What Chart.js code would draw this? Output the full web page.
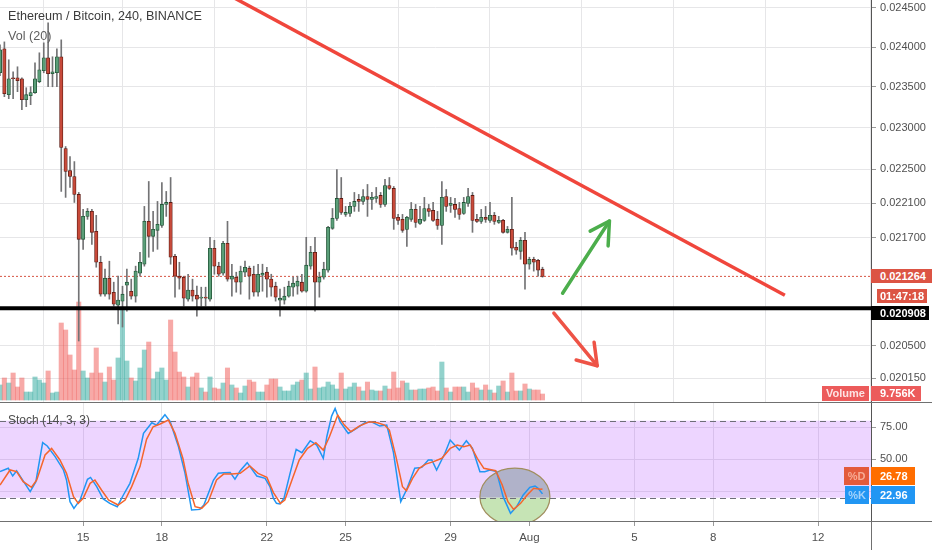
<!DOCTYPE html>
<html><head><meta charset="utf-8">
<script src="https://cdn.jsdelivr.net/npm/chart.js@4.4.1/dist/chart.umd.min.js"></script>
<style>
html,body{margin:0;padding:0;background:#fff;width:932px;height:550px;overflow:hidden;font-family:"Liberation Sans",Arial,sans-serif;}
#wrap{position:relative;width:932px;height:550px;}
canvas{position:absolute;left:0;}
#c1{top:0;}
#c2{top:402px;}
.txt{position:absolute;white-space:nowrap;}
.bd{position:absolute;color:#fff;font:bold 11px "Liberation Sans",Arial,sans-serif;white-space:nowrap;box-sizing:border-box;}
</style></head>
<body><div id="wrap">
<canvas id="c1" width="932" height="402"></canvas>
<canvas id="c2" width="932" height="148"></canvas>
<div class="txt" style="left:8px;top:9px;font-size:12.6px;color:#3b3b3b;">Ethereum / Bitcoin, 240, BINANCE</div>
<div class="txt" style="left:8px;top:29px;font-size:12.6px;color:#5e5e5e;">Vol (20)</div>
<div class="txt" style="left:8px;top:413px;font-size:12px;color:#4e4e4e;">Stoch (14, 3, 3)</div>
</div>
<script>
// ---- data (4h candles, index 0 = first visible candle) ----
const opens = [0.023676,0.023977,0.023404,0.023614,0.023614,0.023602,0.023342,0.023392,0.023429,0.023565,
0.023701,0.023864,0.023664,0.023676,0.023877,0.022748,0.022486,0.022415,0.022204,0.021684,
0.021948,0.022006,0.021775,0.021423,0.021065,0.021244,0.021087,0.020944,0.020988,0.021165,
0.021098,0.021043,0.021300,0.021401,0.021891,0.021718,0.021787,0.021844,0.022087,0.022110,
0.021491,0.021266,0.021255,0.021010,0.021110,0.021054,0.021021,0.021032,0.021010,0.021582,
0.021379,0.021300,0.021638,0.021233,0.021255,0.021199,0.021311,0.021356,0.021288,0.021087,
0.021277,0.021311,0.021233,0.021154,0.020999,0.020999,0.021043,0.021143,0.021154,0.021199,
0.021098,0.021379,0.021536,0.021199,0.021255,0.021333,0.021810,0.021925,0.022157,0.021971,
0.021983,0.022064,0.022145,0.022122,0.022180,0.022145,0.022157,0.022192,0.022087,0.022309,
0.022274,0.021937,0.021914,0.021798,0.021914,0.022029,0.021867,0.021902,0.022040,0.022017,
0.021914,0.021844,0.022180,0.022075,0.022087,0.022040,0.021983,0.022099,0.022192,0.021914,
0.021890,0.021937,0.021902,0.021960,0.021879,0.021902,0.021764,0.021798,0.021593,0.021547,
0.021673,0.021401,0.021457,0.021446,0.021345];
const highs = [0.024028,0.024065,0.023839,0.023689,0.023751,0.023614,0.023490,0.023502,0.023801,0.023927,
0.024053,0.024307,0.023877,0.023977,0.024091,0.022772,0.022652,0.022592,0.022227,0.022029,
0.022040,0.022029,0.021960,0.021491,0.021345,0.021435,0.021199,0.021266,0.021154,0.021345,
0.021233,0.021379,0.021536,0.022064,0.022356,0.022006,0.022122,0.022344,0.022239,0.022403,
0.021513,0.021423,0.021266,0.021288,0.021233,0.021154,0.021143,0.021143,0.021707,0.021673,
0.021423,0.021661,0.021891,0.021401,0.021311,0.021379,0.021435,0.021379,0.021379,0.021401,
0.021401,0.021367,0.021288,0.021199,0.021121,0.021143,0.021210,0.021255,0.021266,0.021288,
0.021707,0.021604,0.021707,0.021311,0.021423,0.021832,0.022040,0.022497,0.022403,0.022064,
0.022110,0.022227,0.022204,0.022262,0.022321,0.022227,0.022286,0.022227,0.022380,0.022403,
0.022297,0.021971,0.021971,0.021948,0.022110,0.022087,0.022064,0.022169,0.022087,0.022110,
0.022006,0.022356,0.022262,0.022169,0.022157,0.022110,0.022169,0.022274,0.022227,0.021971,
0.022029,0.022064,0.022110,0.021994,0.021948,0.021914,0.021832,0.022169,0.021650,0.021707,
0.021764,0.021480,0.021480,0.021457,0.021367];
const lows = [0.023639,0.023379,0.023355,0.023355,0.023441,0.023220,0.023256,0.023281,0.023420,0.023552,
0.023676,0.023502,0.023502,0.023502,0.022239,0.022169,0.022286,0.022110,0.020551,0.021570,
0.021914,0.021627,0.021367,0.021043,0.021043,0.021010,0.020933,0.020736,0.020703,0.020878,
0.021010,0.020977,0.021266,0.021379,0.021480,0.021547,0.021570,0.021821,0.021948,0.021401,
0.021032,0.021121,0.020933,0.020988,0.020988,0.020823,0.020933,0.020933,0.020988,0.021288,
0.021266,0.021277,0.021210,0.021043,0.021087,0.021065,0.021266,0.021010,0.021043,0.021043,
0.021098,0.021032,0.021043,0.020988,0.020823,0.020955,0.021032,0.021043,0.021065,0.021087,
0.021087,0.021345,0.020878,0.021032,0.021233,0.021311,0.021798,0.021902,0.021971,0.021948,
0.021948,0.022006,0.022006,0.022087,0.021948,0.022029,0.022110,0.022052,0.022064,0.022262,
0.021798,0.021856,0.021764,0.021604,0.021890,0.021821,0.021856,0.021890,0.021948,0.021890,
0.021798,0.021627,0.022006,0.021994,0.021937,0.021914,0.021971,0.022064,0.021764,0.021879,
0.021867,0.021879,0.021879,0.021856,0.021867,0.021755,0.021755,0.021502,0.021513,0.021457,
0.021121,0.021345,0.021323,0.021266,0.021255];
const closes = [0.023965,0.023416,0.023602,0.023602,0.023577,0.023342,0.023404,0.023429,0.023602,0.023714,
0.023864,0.023664,0.023689,0.023877,0.022760,0.022474,0.022415,0.022204,0.021684,0.021948,
0.022006,0.021764,0.021423,0.021065,0.021244,0.021065,0.020955,0.020999,0.021065,0.021199,
0.021043,0.021323,0.021423,0.021891,0.021718,0.021798,0.021856,0.022087,0.022110,0.021480,
0.021266,0.021244,0.021021,0.021110,0.021043,0.021010,0.021032,0.021021,0.021582,0.021379,
0.021288,0.021638,0.021233,0.021266,0.021199,0.021323,0.021367,0.021266,0.021087,0.021288,
0.021300,0.021233,0.021143,0.021032,0.021021,0.021043,0.021154,0.021188,0.021210,0.021098,
0.021390,0.021536,0.021199,0.021255,0.021345,0.021821,0.021925,0.022157,0.021994,0.021994,
0.022064,0.022122,0.022122,0.022180,0.022145,0.022169,0.022180,0.022087,0.022309,0.022274,
0.021925,0.021902,0.021787,0.021937,0.022029,0.021879,0.021914,0.022040,0.022006,0.021902,
0.021844,0.022169,0.022064,0.022099,0.022029,0.021971,0.022110,0.022180,0.021902,0.021890,
0.021937,0.021914,0.021960,0.021890,0.021902,0.021764,0.021798,0.021582,0.021559,0.021673,
0.021401,0.021457,0.021423,0.021334,0.021264];
// volume in thousands
const volumes = [24.5,35.9,27.7,44.0,21.2,35.9,13.0,13.0,37.5,32.6,
27.7,47.3,11.4,13.0,125.5,114.1,73.4,48.9,159.7,47.3,
35.9,44.0,84.8,44.0,29.3,53.8,32.6,68.5,150.0,63.6,
35.9,31.0,52.2,81.5,94.5,34.2,45.6,52.2,32.6,130.4,
78.2,45.6,37.5,21.2,37.5,44.0,19.6,13.0,37.5,19.6,
17.9,27.7,52.2,24.5,19.6,11.4,22.8,32.6,29.3,13.0,
13.0,24.5,34.2,34.2,21.2,14.7,14.7,24.5,29.3,32.6,
44.0,17.9,53.8,19.6,21.2,29.3,24.5,17.9,44.0,17.9,
21.2,27.7,21.2,14.7,29.3,16.3,14.7,14.7,22.8,17.9,
45.6,19.6,31.0,27.7,16.3,16.3,17.9,17.9,19.6,21.2,
14.7,61.9,19.6,13.0,21.2,21.2,21.2,13.0,27.7,19.6,
16.3,24.5,16.3,11.4,22.8,31.0,13.0,44.0,14.7,14.7,
26.1,17.9,16.3,16.3,9.756];
// Stochastic (14,3,3): vertices (candle index, value)
const kIdx = [0,1.9,2.9,3.8,6.9,8.2,9.75,10.8,12.6,14.5,15.2,16,16.9,18.3,20,20.7,22.1,23.6,25.1,26.8,
28.2,29.7,31.6,32.8,34.7,35.8,37.7,38.9,40.8,42.3,43.8,45.7,46.6,48.8,49.9,51.1,52.6,53.7,54.9,56.5,
58.7,60.6,61.7,62.5,63.2,64,64.9,66.3,67.7,69,70.9,72.4,73.9,74.7,75.8,76.6,77.7,79.6,81.5,83.4,
84.9,86.8,88.4,89.9,91.6,92.9,94.8,96.4,97.9,98.7,99.8,101.7,102.9,105,106.6,108,109.7,110.8,112,113.5,
115,116.7,118.1,119.6,121.1,122.3,123,124];
const kVal = [40.3,42.9,36.9,41,24.7,32.5,62.9,60.3,52,41.6,33.8,16.9,11.7,18.2,34.3,35.8,28.6,19,15.6,13,
22.1,31.2,50.7,70.1,78.4,76.6,84.7,79.2,59.7,39,10.4,10.9,14.3,33.8,39,39.5,39.7,34.5,41,47.3,
36.9,35.1,28.6,19.5,15.6,15.1,19.5,39,57.7,55.1,64.4,61,50.7,67.5,83.6,89.6,79.2,70.1,74,78.4,
79.2,75.8,76.6,55.8,16.9,26,42.9,43.6,49.4,49.4,41.6,54.6,64.9,57.1,64.4,58.4,40.3,40.3,41.6,40.3,
20.8,7.8,13,22.1,28.1,29.1,27.3,22.96];
const dIdx = [0,2.3,3.8,5.3,7.2,8.4,10.3,11.8,13.7,15.2,16.8,17.9,19,20.6,21.7,23.2,24.8,27,28.6,30.1,
32,33.5,35,36.6,38.5,40,41.8,43,44.6,46.1,47.6,49.5,51.1,53,54.9,57.1,59,61,62.5,64.1,
65.1,67,68.4,70.3,72.2,73.9,75.3,77.2,78.7,80.2,82.1,84.4,86.3,87.9,89,90.5,92,92.9,94.3,95.8,
97.3,99.1,101,102.9,104.5,106,107.5,109.1,110.6,113.3,114.8,116.1,117.4,119,120.5,122,123.6,124];
const dVal = [29.9,41.6,40.3,32.5,28.1,33.8,53.3,58.4,49.4,39,20.8,15.6,19.5,31.2,33.8,26,18.2,14.3,18.2,28.6,
44.2,65.5,75.3,77.4,80.5,70.1,50.7,31.2,13,11.7,16.9,33.8,38.4,38.4,39,44.7,39,35.8,24,15.6,
18.2,36.4,49.4,58.4,62.9,57.1,67.5,84.4,76.6,71.4,75.8,79.2,78.4,76.6,72.7,52,28.6,25.5,35.1,42.9,
46.2,48.1,50.7,58.4,61,59.7,61,50.7,42.9,41,29.9,16.9,10.9,15.6,22.1,27.3,26.5,26.78];
// axes
const dayTickIdx = [19,37,61,79,103,121,145,163,187];
const dayTickLabels = ['15','18','22','25','29','Aug','5','8','12'];
const priceTicks = [0.02015,0.0205,0.0217,0.0221,0.0225,0.023,0.0235,0.024,0.0245];
const stochTicks = [25,50,75];
const stochBands = [20,80];
// drawings
const supportLevel = 0.020908;
const trendLine = [{x:50.2,y:0.024733},{x:179.4,y:0.021054}];
const upArrowShaft = [{x:128.6,y:0.021076},{x:139.3,y:0.021894}];
const upArrowHead = [{x:134.9,y:0.021778},{x:139.3,y:0.021894},{x:139.0,y:0.021608}];
const downArrowShaft = [{x:126.6,y:0.020856},{x:136.5,y:0.020285}];
const downArrowHead = [{x:131.7,y:0.020346},{x:136.5,y:0.020285},{x:135.8,y:0.020537}];
const circleMark = {x:117.7, y:20.8};
const countdown = '01:47:18';

// ---- view ranges ----
const xMin = 0, xMax = 199.09;
const pMin = 0.019912, pMax = 0.024603;
const vMin = -3.26, vMax = 652;
const sMin = 1.84, sMax = 94.57;

const UP='#5a9e78', DOWN='#c84a3a', UPB='#225437', DOWNB='#5b1a13', WICK='#737375';
const GRID='#e6e6e8';
const FONT='"Liberation Sans", Arial, sans-serif';
const isUp = closes.map((c,i)=>c>=opens[i]);
const last = closes.length-1;

function axisFitY(s){ s.width=61; s.paddingTop=0; s.paddingBottom=0; }

const c1 = new Chart(document.getElementById('c1'), {
  type:'bar',
  data:{datasets:[
    {type:'bar', label:'Volume', yAxisID:'yv', grouped:false, order:10, barThickness:4.4,
      data: volumes.map((v,i)=>({x:i,y:v})),
      backgroundColor: isUp.map(u=>u?'rgba(38,166,154,0.5)':'rgba(239,83,80,0.5)')},
    {type:'line', label:'Last price', yAxisID:'y', order:9, pointRadius:0, borderWidth:1,
      borderColor:'#d75442', borderDash:[2,2],
      data:[{x:xMin,y:closes[last]},{x:xMax,y:closes[last]}]},
    {type:'bar', label:'Wick', yAxisID:'y', grouped:false, order:8, barThickness:1,
      data: lows.map((l,i)=>({x:i,y:[l,highs[i]]})), backgroundColor:WICK},
    {type:'bar', label:'Body', yAxisID:'y', grouped:false, order:7, barThickness:3.4,
      borderWidth:0.8, borderSkipped:false,
      data: opens.map((o,i)=>({x:i,y:[o,closes[i]]})),
      backgroundColor: isUp.map(u=>u?UP:DOWN), borderColor: isUp.map(u=>u?UPB:DOWNB)},
    {type:'line', label:'Support', yAxisID:'y', order:5, pointRadius:0, borderWidth:4, borderColor:'#000',
      data:[{x:xMin,y:supportLevel},{x:xMax,y:supportLevel}]},
    {type:'line', label:'Trend', yAxisID:'y', order:4, pointRadius:0, borderWidth:3.5, borderColor:'#f0463c',
      data:trendLine},
    {type:'line', label:'Up', yAxisID:'y', order:3, pointRadius:0, borderWidth:3.5, borderColor:'#4cae4c',
      borderCapStyle:'round', data:upArrowShaft},
    {type:'line', label:'UpHead', yAxisID:'y', order:3, pointRadius:0, borderWidth:3.5, borderColor:'#4cae4c',
      borderCapStyle:'round', borderJoinStyle:'round', data:upArrowHead},
    {type:'line', label:'Down', yAxisID:'y', order:3, pointRadius:0, borderWidth:3.5, borderColor:'#ee5346',
      borderCapStyle:'round', data:downArrowShaft},
    {type:'line', label:'DownHead', yAxisID:'y', order:3, pointRadius:0, borderWidth:3.5, borderColor:'#ee5346',
      borderCapStyle:'round', borderJoinStyle:'round', data:downArrowHead}
  ]},
  options:{
    responsive:false, animation:false, events:[],
    layout:{padding:0},
    plugins:{legend:{display:false}, tooltip:{enabled:false}},
    scales:{
      x:{type:'linear', min:xMin, max:xMax, offset:false,
        afterBuildTicks:s=>{s.ticks=dayTickIdx.map(v=>({value:v}));},
        ticks:{display:false}, grid:{color:GRID, drawTicks:false}, border:{display:false},
        afterFit:s=>{s.height=0; s.paddingLeft=0; s.paddingRight=0;}},
      y:{type:'logarithmic', position:'right', min:pMin, max:pMax,
        afterBuildTicks:s=>{s.ticks=priceTicks.map(v=>({value:v}));},
        ticks:{callback:v=>Number(v).toFixed(6), color:'#505050', font:{family:FONT,size:11}, padding:4, autoSkip:false},
        grid:{color:GRID, tickLength:5, tickColor:'#9a9a9a'}, border:{color:'#555'},
        afterFit:axisFitY},
      yv:{type:'linear', display:false, min:vMin, max:vMax}
    }
  }
});

const stochDecor = {
  id:'stochDecor',
  beforeDatasetsDraw(chart){
    const {ctx, chartArea:a, scales:{x,y}} = chart;
    ctx.save();
    ctx.beginPath(); ctx.rect(a.left,a.top,a.right-a.left,a.bottom-a.top); ctx.clip();
    const yHi = y.getPixelForValue(stochBands[1]), yLo = y.getPixelForValue(stochBands[0]);
    ctx.fillStyle='rgba(153,21,255,0.18)';
    ctx.fillRect(a.left,yHi,a.right-a.left,yLo-yHi);
    const cx = x.getPixelForValue(circleMark.x), cy = y.getPixelForValue(circleMark.y);
    ctx.save();
    ctx.beginPath(); ctx.ellipse(cx,cy,35,28.5,0,0,Math.PI*2); ctx.clip();
    ctx.fillStyle='#b0b2c9'; ctx.fillRect(cx-40,cy-40,80,yLo-(cy-40));
    ctx.fillStyle='#c6e4b5'; ctx.fillRect(cx-40,yLo,80,80);
    ctx.restore();
    ctx.beginPath(); ctx.ellipse(cx,cy,35,28.5,0,0,Math.PI*2);
    ctx.strokeStyle='#a08e5e'; ctx.lineWidth=1.2; ctx.stroke();
    ctx.setLineDash([6,4]); ctx.strokeStyle='#6e6e78'; ctx.lineWidth=1;
    [yHi,yLo].forEach(py=>{ ctx.beginPath(); ctx.moveTo(a.left,Math.round(py)+0.5); ctx.lineTo(a.right,Math.round(py)+0.5); ctx.stroke(); });
    ctx.restore();
  },
  afterDraw(chart){
    const {ctx, chartArea:a} = chart;
    ctx.save();
    ctx.fillStyle='#707070';
    ctx.fillRect(0,0,chart.width,1);
    ctx.fillRect(0,Math.round(a.bottom),chart.width,1);
    ctx.fillRect(871,a.bottom,1,chart.height-a.bottom);
    ctx.restore();
  }
};

const c2 = new Chart(document.getElementById('c2'), {
  type:'line',
  data:{datasets:[
    {label:'%K', order:2, pointRadius:0, borderWidth:1.5, borderColor:'#2196f3', tension:0,
      data:kIdx.map((v,i)=>({x:v,y:kVal[i]}))},
    {label:'%D', order:1, pointRadius:0, borderWidth:1.5, borderColor:'#f5652c', tension:0,
      data:dIdx.map((v,i)=>({x:v,y:dVal[i]}))}
  ]},
  plugins:[stochDecor],
  options:{
    responsive:false, animation:false, events:[],
    layout:{padding:0},
    plugins:{legend:{display:false}, tooltip:{enabled:false}},
    scales:{
      x:{type:'linear', min:xMin, max:xMax, offset:false,
        afterBuildTicks:s=>{s.ticks=dayTickIdx.map(v=>({value:v}));},
        ticks:{callback:v=>dayTickLabels[dayTickIdx.indexOf(v)], color:'#505050', font:{family:FONT,size:11.5}, padding:5, autoSkip:false, maxRotation:0},
        grid:{color:GRID, tickLength:5, tickColor:'#9a9a9a'}, border:{display:false},
        afterFit:s=>{s.height=29; s.paddingLeft=0; s.paddingRight=0;}},
      y:{type:'linear', position:'right', min:sMin, max:sMax,
        afterBuildTicks:s=>{s.ticks=stochTicks.map(v=>({value:v}));},
        ticks:{callback:v=>Number(v).toFixed(2), color:'#505050', font:{family:FONT,size:11}, padding:4, autoSkip:false},
        grid:{color:GRID, tickLength:5, tickColor:'#9a9a9a'}, border:{color:'#555'},
        afterFit:axisFitY}
    }
  }
});

// ---- price-scale badges (positions taken from the chart scales) ----
const wrap = document.getElementById('wrap');
function badge(text, left, width, center, h, bg, color, align, pad){
  const d = document.createElement('div');
  d.className='bd'; d.textContent=text;
  d.style.left=left+'px'; d.style.width=width+'px';
  d.style.top=(center-h/2)+'px'; d.style.height=h+'px'; d.style.lineHeight=h+'px';
  d.style.background=bg; d.style.color=color||'#fff';
  d.style.textAlign=align||'left'; d.style.paddingLeft=(pad||0)+'px';
  wrap.appendChild(d); return d;
}
const yP = c1.scales.y, yV = c1.scales.yv, yS = c2.scales.y;
const lastY = yP.getPixelForValue(closes[last]);
badge(closes[last].toFixed(6), 871, 61, lastY, 14, '#dc5444', '#fff', 'left', 9);
const cdY = lastY + 20;
badge(countdown, 877, 50, cdY, 14, '#dc5444', '#fff', 'center', 0);
const supY = Math.max(yP.getPixelForValue(supportLevel), cdY + 17);
badge(supportLevel.toFixed(6), 871, 58, supY, 14, '#000', '#fff', 'left', 9);
const volY = Math.min(yV.getPixelForValue(volumes[last]), 393);
badge('Volume', 822, 47, volY, 15, '#ec5b5b', '#fde3e3', 'center', 0);
badge(volumes[last].toFixed(3)+'K', 871, 50, volY, 15, '#ec5b5b', '#fff', 'left', 9);
const kY = 402 + yS.getPixelForValue(kVal[kVal.length-1]) + 0.7;
const dY = Math.min(402 + yS.getPixelForValue(dVal[dVal.length-1]), kY - 18.7);
badge('%D', 844, 25, dY, 18, '#e35a3c', '#f7ab95', 'center', 0);
badge(dVal[dVal.length-1].toFixed(2), 871, 44, dY, 18, '#ff6d00', '#fff', 'left', 9);
badge('%K', 845, 24, kY, 18, '#2196f3', '#a5d3fb', 'center', 0);
badge(kVal[kVal.length-1].toFixed(2), 871, 44, kY, 18, '#2196f3', '#fff', 'left', 9);
</script>
</body></html>
